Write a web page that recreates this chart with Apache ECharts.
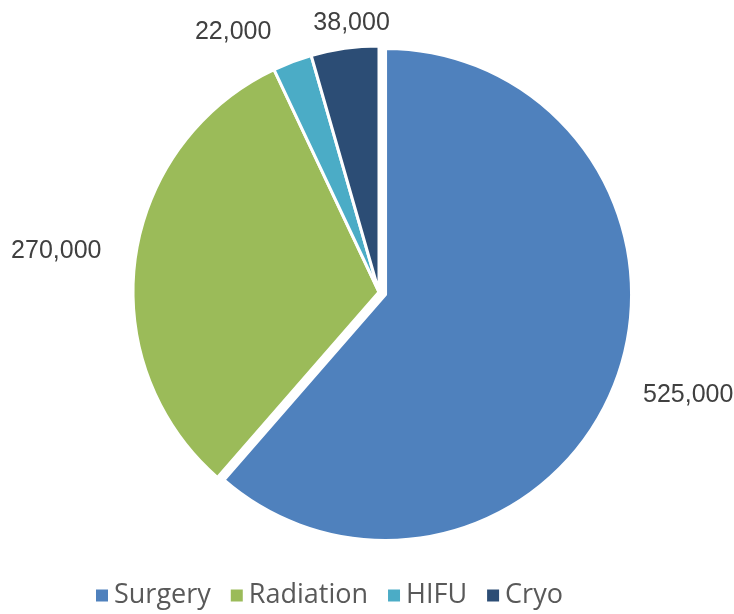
<!DOCTYPE html>
<html>
<head>
<meta charset="utf-8">
<script src="https://cdn.jsdelivr.net/npm/echarts@6/dist/echarts.min.js"></script>
<style>
  html, body { margin: 0; padding: 0; background: #fff; }
  #chart { width: 734px; height: 614px; }
</style>
</head>
<body>
<div id="chart"></div>
<script>
const categories = ['Surgery', 'Radiation', 'HIFU', 'Cryo']
const values = [525000, 270000, 22000, 38000]
const colors = ['#4f81bd', '#9bbb59', '#4bacc6', '#2c4d75']

// small label nudges to mimic the "best fit" placement
const labelShift = [[9, 9], [-20, -5], [14, -29], [52, -11]]

const chart = echarts.init(document.getElementById('chart'))

chart.setOption({
  animation: false,
  color: colors,
  legend: {
    bottom: 0,
    left: 89,
    itemWidth: 14,
    itemHeight: 14,
    itemGap: 18,
    icon: 'rect',
    textStyle: {
      fontFamily: 'Open Sans',
      fontSize: 27,
      color: '#595959'
    },
    data: categories
  },
  series: [
    {
      name: 'Treatment',
      type: 'pie',
      center: [379, 292],
      radius: [0, 246],
      startAngle: 90,
      clockwise: true,
      selectedMode: 'single',
      selectedOffset: 7,
      itemStyle: {
        borderColor: '#fff',
        borderWidth: 3
      },
      label: {
        show: true,
        position: 'outside',
        fontFamily: 'Liberation Sans',
        fontSize: 25,
        color: '#404040',
        formatter: p => p.value.toLocaleString('en-US')
      },
      labelLine: {
        show: false,
        length: 14,
        length2: 0
      },
      labelLayout: p => ({
        dx: labelShift[p.dataIndex][0],
        dy: labelShift[p.dataIndex][1],
        hideOverlap: false
      }),
      data: categories.map((name, i) => ({ name: name, value: values[i], selected: i === 0 }))
    }
  ]
})
</script>
</body>
</html>
